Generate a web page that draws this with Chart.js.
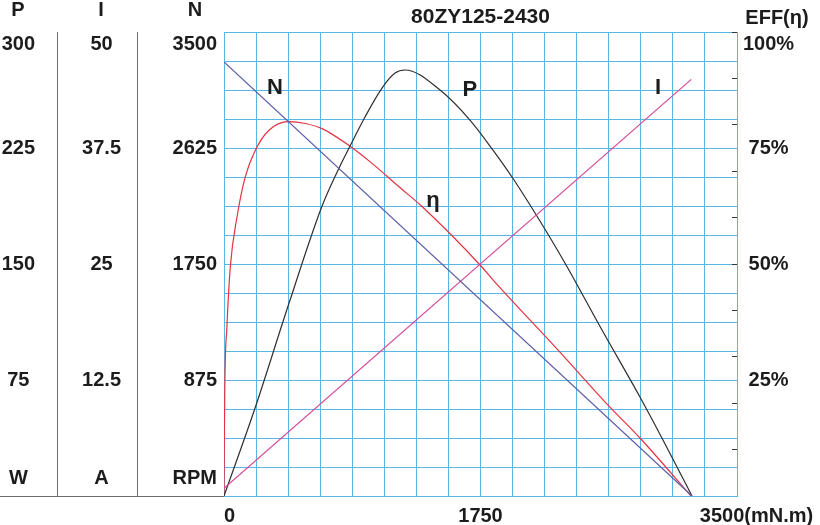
<!DOCTYPE html>
<html>
<head>
<meta charset="utf-8">
<title>80ZY125-2430</title>
<script src="https://cdn.jsdelivr.net/npm/chart.js@4.4.1/dist/chart.umd.min.js"></script>
<style>
  body { margin: 0; background: #fff; }
</style>
</head>
<body>
<canvas id="chart" width="820" height="525"></canvas>
<script>
// values, torque in mN.m
const speedTorque = [0, 3193]
const speedRpm = [3274, 0]

const currentTorque = [0, 3188]
const currentAmp = [0.83, 44.9]

const powerTorque = [0, 212, 444, 669, 785, 860, 962, 1078, 1167, 1235, 1474, 1678, 1835, 1965, 2122, 2326, 2579, 2838, 2995, 3193]
const powerWatt = [0, 56.9, 124.8, 187.5, 212.1, 226.3, 245.1, 263.8, 273.5, 275.5, 262.5, 243.1, 223.7, 206.3, 183.0, 150.7, 107.3, 64.0, 36.2, 0]

const effTorque = [0, 5, 20, 43, 89, 145, 213, 305, 441, 555, 669, 851, 1010, 1192, 1351, 1747, 1835, 2292, 2620, 2838, 3186]
const effPercent = [0, 22.2, 36.5, 49.4, 60.2, 68.8, 74.5, 78.8, 80.7, 80.3, 79.2, 75.6, 71.7, 66.7, 62.4, 49.8, 46.6, 31, 19.6, 12.5, 0]

// tick labels
const torqueTicks = [0, 1750, 3500]
const torqueLabels = ['  0', '1750', '       3500(mN.m)']
const powerTicks = [0, 75, 150, 225, 300]
const powerLabels = ['W', '75', '150', '225', '300']
const currentTicks = [0, 12.5, 25, 37.5, 50]
const currentLabels = ['A', '12.5', '25', '37.5', '50']
const speedTicks = [0, 875, 1750, 2625, 3500]
const speedLabels = ['RPM', '875', '1750', '2625', '3500']
const effTicks = [0, 25, 50, 75, 100]
const effLabels = ['', '25%', '50%', '75%', '100%']

const gridCyan = '#5ab6e4'
const panelGray = '#6b6b6b'
const textColor = '#1c1c1c'
const fontFamily = "'Liberation Sans', Arial, sans-serif"

function points (xs, ys) {
  return xs.map((x, i) => ({ x, y: ys[i] }))
}

// top label is pushed down, bottom label pushed up, like the original sheet
function yLabel (values, texts) {
  return (value) => {
    const i = values.indexOf(value)
    if (i < 0) return ''
    if (i === values.length - 1) return ['', '', texts[i]]
    if (i === 0) return [texts[i], '', '', '']
    return texts[i]
  }
}

function tickFont (size) {
  return { family: fontFamily, size, weight: 'bold', lineHeight: '12px' }
}

// fixed axis sizes, no extra room for overflowing labels
function fixWidth (w) {
  return (s) => {
    s.width = w
    s.paddingTop = 0
    s.paddingBottom = 0
  }
}

const curveNames = [
  { text: 'N', t: 348, eff: 88 },
  { text: 'P', t: 1678, eff: 87.5 },
  { text: 'I', t: 2961, eff: 88 },
  { text: 'η', t: 1426, eff: 63.5 }
]

const decor = {
  id: 'decor',
  afterDraw (chart) {
    const { ctx, chartArea, scales } = chart
    ctx.save()
    ctx.strokeStyle = panelGray
    ctx.lineWidth = 1
    ctx.beginPath()
    ctx.moveTo(0, Math.round(chartArea.bottom) + 0.5)
    ctx.lineTo(chartArea.left, Math.round(chartArea.bottom) + 0.5)
    ctx.stroke()

    ctx.fillStyle = textColor
    ctx.textAlign = 'center'
    ctx.textBaseline = 'middle'
    ctx.font = 'bold 20px ' + fontFamily
    ctx.fillText('P', scales.yP.left + 18, 10)
    ctx.fillText('I', scales.yI.left + 44, 10)
    ctx.fillText('N', scales.yN.right - 29, 10)
    ctx.fillText('EFF(η)', scales.yEff.left + 40, 18)

    ctx.font = 'bold 22px ' + fontFamily
    for (const c of curveNames) {
      ctx.fillText(c.text, scales.x.getPixelForValue(c.t), scales.yEff.getPixelForValue(c.eff))
    }
    ctx.restore()
  }
}

new Chart(document.getElementById('chart'), {
  type: 'line',
  data: {
    datasets: [
      {
        label: 'N',
        data: points(speedTorque, speedRpm),
        yAxisID: 'yN',
        borderColor: '#5b5ea8',
        borderWidth: 1.2
      },
      {
        label: 'I',
        data: points(currentTorque, currentAmp),
        yAxisID: 'yI',
        borderColor: '#d8489a',
        borderWidth: 1.2
      },
      {
        label: 'P',
        data: points(powerTorque, powerWatt),
        yAxisID: 'yP',
        borderColor: '#2e2e2e',
        borderWidth: 1.2,
        cubicInterpolationMode: 'monotone'
      },
      {
        label: 'η',
        data: points(effTorque, effPercent),
        yAxisID: 'yEff',
        borderColor: '#e5333f',
        borderWidth: 1.2,
        cubicInterpolationMode: 'monotone'
      }
    ]
  },
  options: {
    responsive: false,
    animation: false,
    devicePixelRatio: 1,
    elements: { point: { radius: 0 } },
    layout: { padding: 0 },
    plugins: {
      legend: { display: false },
      tooltip: { enabled: false },
      title: {
        display: true,
        text: '80ZY125-2430',
        fullSize: false,
        color: textColor,
        font: { family: fontFamily, size: 21, weight: 'bold', lineHeight: 1.1 },
        padding: { top: 6, bottom: 3 }
      }
    },
    scales: {
      x: {
        type: 'linear',
        position: 'bottom',
        min: 0,
        max: 3500,
        afterFit: (s) => {
          s.height = 29
          s.paddingLeft = 0
          s.paddingRight = 0
        },
        ticks: {
          stepSize: 218.75,
          autoSkip: false,
          maxRotation: 0,
          color: textColor,
          font: tickFont(20),
          padding: 14,
          callback: (value) => {
            const i = torqueTicks.indexOf(value)
            return i < 0 ? '' : torqueLabels[i]
          }
        },
        grid: { color: gridCyan, drawTicks: false },
        border: { color: gridCyan }
      },
      yN: {
        position: 'left',
        weight: 1,
        min: 0,
        max: 3500,
        afterFit: fixWidth(87),
        ticks: {
          stepSize: 218.75,
          autoSkip: false,
          crossAlign: 'near',
          padding: 7,
          color: textColor,
          font: tickFont(20),
          callback: yLabel(speedTicks, speedLabels)
        },
        grid: { color: gridCyan, drawTicks: false },
        border: { color: gridCyan }
      },
      yI: {
        position: 'left',
        weight: 2,
        min: 0,
        max: 50,
        afterFit: fixWidth(80),
        ticks: {
          stepSize: 12.5,
          autoSkip: false,
          crossAlign: 'center',
          padding: 16,
          color: textColor,
          font: tickFont(20),
          callback: yLabel(currentTicks, currentLabels)
        },
        grid: { drawOnChartArea: false, drawTicks: false },
        border: { color: panelGray }
      },
      yP: {
        position: 'left',
        weight: 3,
        min: 0,
        max: 300,
        afterFit: fixWidth(57),
        ticks: {
          stepSize: 75,
          autoSkip: false,
          crossAlign: 'center',
          padding: 22,
          color: textColor,
          font: tickFont(20),
          callback: yLabel(powerTicks, powerLabels)
        },
        grid: { drawOnChartArea: false, drawTicks: false },
        border: { color: panelGray }
      },
      yEffT: {
        position: 'right',
        weight: 0,
        min: 0,
        max: 100,
        afterFit: fixWidth(0),
        ticks: { stepSize: 10, display: false },
        grid: { drawOnChartArea: false, drawTicks: true, tickLength: -5, color: '#333' },
        border: { display: false }
      },
      yEff: {
        position: 'right',
        weight: 1,
        min: 0,
        max: 100,
        afterFit: fixWidth(83),
        ticks: {
          stepSize: 25,
          autoSkip: false,
          crossAlign: 'center',
          padding: 6,
          color: textColor,
          font: tickFont(20),
          callback: yLabel(effTicks, effLabels)
        },
        grid: { drawOnChartArea: false, drawTicks: false },
        border: { display: false }
      }
    }
  },
  plugins: [decor]
})
</script>
</body>
</html>
